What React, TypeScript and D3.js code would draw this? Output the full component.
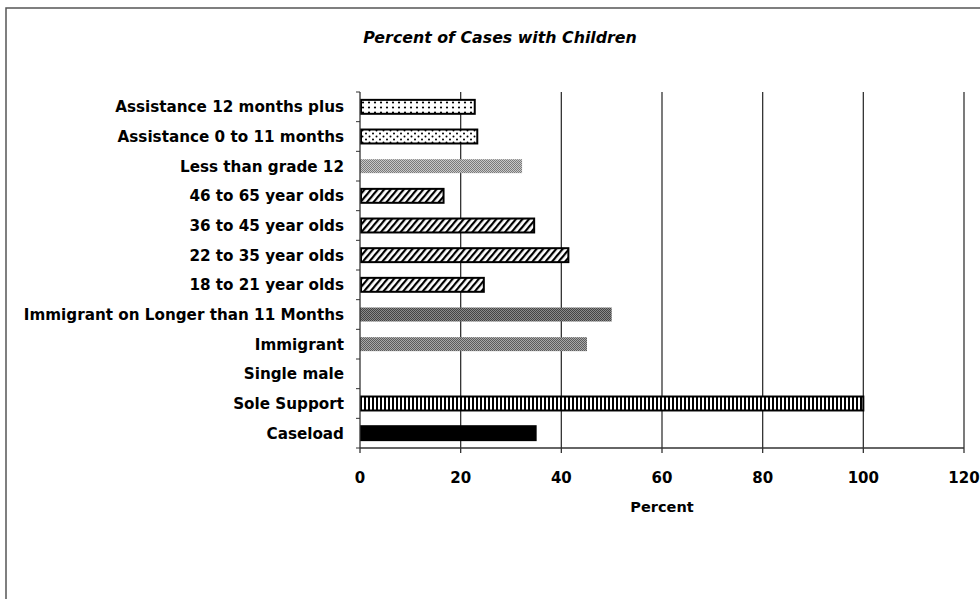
import React from "react";
import * as d3 from "d3";

const categories = [
  "Assistance 12 months plus",
  "Assistance 0 to 11 months",
  "Less than grade 12",
  "46 to 65 year olds",
  "36 to 45 year olds",
  "22 to 35 year olds",
  "18 to 21 year olds",
  "Immigrant on Longer than 11 Months",
  "Immigrant",
  "Single male",
  "Sole Support",
  "Caseload",
];
const values = [22.8, 23.3, 32.2, 16.6, 34.6, 41.4, 24.6, 50.0, 45.1, 0, 100, 34.9];
const xTicks = [0, 20, 40, 60, 80, 100, 120];
const title = "Percent of Cases with Children";
const xTitle = "Percent";

const fillFor: Record<string, string> = {
  "Assistance 12 months plus": "url(#dots1)",
  "Assistance 0 to 11 months": "url(#dots2)",
  "Less than grade 12": "url(#gray1)",
  "46 to 65 year olds": "url(#hatch)",
  "36 to 45 year olds": "url(#hatch)",
  "22 to 35 year olds": "url(#hatch)",
  "18 to 21 year olds": "url(#hatch)",
  "Immigrant on Longer than 11 Months": "url(#gray3)",
  "Immigrant": "url(#gray2)",
  "Single male": "#888",
  "Sole Support": "url(#vstripes)",
  "Caseload": "#000",
};
const outlined: Record<string, boolean> = {
  "Assistance 12 months plus": true,
  "Assistance 0 to 11 months": true,
  "46 to 65 year olds": true,
  "36 to 45 year olds": true,
  "22 to 35 year olds": true,
  "18 to 21 year olds": true,
  "Sole Support": true,
  "Caseload": true,
};

const FONT = "'DejaVu Sans', sans-serif";

export default function App() {
  const W = 980, H = 599;
  const x = d3.scaleLinear().domain([0, 120]).range([360, 964]);
  const y = d3.scaleBand<string>().domain(categories).range([92, 448]).paddingInner(0.53).paddingOuter(0.265);
  const step = y.step();
  const top = 92, bottom = 448;

  const grayPattern = (id: string, light: string, dark: string) => (
    <pattern id={id} width="2" height="2" patternUnits="userSpaceOnUse">
      <rect width="2" height="2" fill={light} />
      <rect x="0" y="0" width="1" height="1" fill={dark} />
      <rect x="1" y="1" width="1" height="1" fill={dark} />
    </pattern>
  );

  return (
    <svg width={W} height={H} style={{ position: "absolute", left: 0, top: 0, background: "#fff" }}>
      <defs>
        <pattern id="dots1" width="6" height="5" patternUnits="userSpaceOnUse">
          <rect width="6" height="5" fill="#fff" />
          <circle cx="3" cy="2.5" r="1.1" fill="#000" />
        </pattern>
        <pattern id="dots2" width="7" height="6" patternUnits="userSpaceOnUse">
          <rect width="7" height="6" fill="#fff" />
          <circle cx="2" cy="1.5" r="1" fill="#000" />
          <circle cx="5.5" cy="4.5" r="1" fill="#000" />
        </pattern>
        <pattern id="hatch" width="5" height="5" patternUnits="userSpaceOnUse" patternTransform="rotate(40)">
          <rect width="5" height="5" fill="#fff" />
          <rect x="0" y="0" width="2.2" height="5" fill="#000" />
        </pattern>
        <pattern id="vstripes" width="4" height="4" patternUnits="userSpaceOnUse">
          <rect width="4" height="4" fill="#fff" />
          <rect x="0" y="0" width="2" height="4" fill="#000" />
        </pattern>
        {grayPattern("gray1", "#c8c8c8", "#7a7a7a")}
        {grayPattern("gray2", "#a8a8a8", "#5c5c5c")}
        {grayPattern("gray3", "#8a8a8a", "#444")}
      </defs>

      {/* chart border */}
      <rect x={6} y={8} width={990} height={620} fill="none" stroke="#555" strokeWidth={1.5} />

      {/* title */}
      <text x={500} y={43} textAnchor="middle" fontFamily={FONT} fontWeight="bold" fontStyle="italic" fontSize={15.8} fill="#000">
        {title}
      </text>

      {/* gridlines */}
      {xTicks.filter((t) => t > 0).map((t) => (
        <line key={"g" + t} x1={x(t)} x2={x(t)} y1={top} y2={bottom + 5} stroke="#333" strokeWidth={1.3} />
      ))}

      {/* bars */}
      {categories.map((c, i) => {
        const v = values[i];
        if (v <= 0) return null;
        const o = outlined[c];
        return (
          <rect
            key={c}
            x={x(0) + (o ? 1 : 0)}
            y={y(c)!}
            width={x(v) - x(0) - (o ? 1 : 0)}
            height={y.bandwidth()}
            fill={fillFor[c]}
            stroke={o ? "#000" : "none"}
            strokeWidth={o ? 2 : 0}
          />
        );
      })}

      {/* y axis */}
      <line x1={x(0)} x2={x(0)} y1={top} y2={bottom + 5} stroke="#333" strokeWidth={1.3} />
      {d3.range(categories.length + 1).map((i) => (
        <line key={"yt" + i} x1={x(0) - 4} x2={x(0)} y1={top + i * step} y2={top + i * step} stroke="#333" strokeWidth={1} />
      ))}
      {categories.map((c) => (
        <text key={"l" + c} x={344} y={y(c)! + y.bandwidth() / 2} dy="0.36em" textAnchor="end" fontFamily={FONT} fontWeight="bold" fontSize={15.2} fill="#000">
          {c}
        </text>
      ))}

      {/* x axis */}
      <line x1={x(0)} x2={x(120)} y1={bottom} y2={bottom} stroke="#333" strokeWidth={1.3} />
      {xTicks.map((t) => (
        <text key={"xt" + t} x={x(t)} y={483} textAnchor="middle" fontFamily={FONT} fontWeight="bold" fontSize={15} fill="#000">
          {t}
        </text>
      ))}
      <text x={662} y={512} textAnchor="middle" fontFamily={FONT} fontWeight="bold" fontSize={14.5} fill="#000">
        {xTitle}
      </text>
    </svg>
  );
}
